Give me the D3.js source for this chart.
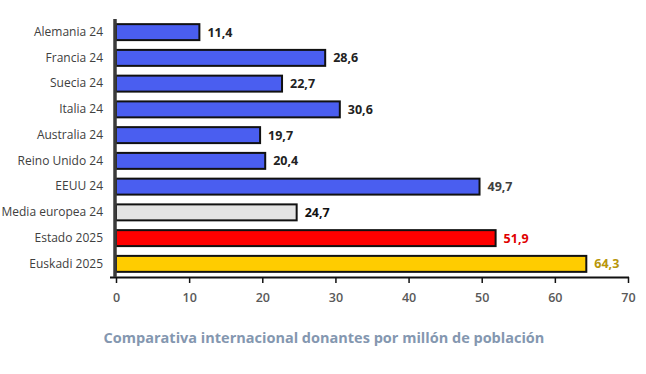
<!DOCTYPE html>
<html>
<head>
<meta charset="utf-8">
<script src="https://cdn.jsdelivr.net/npm/d3@7"></script>
<style>
  body { margin: 0; background: #fff; }
  text { font-family: "Open Sans", "Noto Sans", sans-serif; }
</style>
</head>
<body>
<svg id="chart" width="646" height="374"></svg>
<script>
// data
const categories = ["Alemania 24", "Francia 24", "Suecia 24", "Italia 24", "Australia 24",
  "Reino Unido 24", "EEUU 24", "Media europea 24", "Estado 2025", "Euskadi 2025"];
const values = [11.4, 28.6, 22.7, 30.6, 19.7, 20.4, 49.7, 24.7, 51.9, 64.3];
const barColors = ["#4a5ef0", "#4a5ef0", "#4a5ef0", "#4a5ef0", "#4a5ef0",
  "#4a5ef0", "#4a5ef0", "#e3e3e3", "#ff0000", "#ffcc00"];
const labelColors = ["#222", "#222", "#222", "#222", "#222",
  "#222", "#404040", "#111", "#e00000", "#b8960a"];
const xTicks = [0, 10, 20, 30, 40, 50, 60, 70];
const title = "Comparativa internacional donantes por millón de población";

const svg = d3.select("#chart");
const margin = { left: 116, right: 18, top: 19, bottom: 97 };
const width = 646, height = 374;

const x = d3.scaleLinear().domain([0, 70]).range([margin.left, width - margin.right]);
const y = d3.scaleBand().domain(categories)
  .range([margin.top, height - margin.bottom]).paddingInner(0.38).paddingOuter(0.2);

const data = categories.map((c, i) => ({ c, v: values[i], fill: barColors[i], lc: labelColors[i] }));

// bars
svg.append("g").selectAll("rect").data(data).join("rect")
  .attr("x", x(0))
  .attr("y", d => y(d.c))
  .attr("width", d => x(d.v) - x(0))
  .attr("height", y.bandwidth())
  .attr("fill", d => d.fill)
  .attr("stroke", "#111")
  .attr("stroke-width", 2);

// value labels
svg.append("g").selectAll("text").data(data).join("text")
  .attr("x", d => x(d.v) + 8)
  .attr("y", d => y(d.c) + y.bandwidth() / 2)
  .attr("dy", "0.36em")
  .attr("font-size", 12.5)
  .attr("font-weight", "bold")
  .attr("fill", d => d.lc)
  .text(d => d3.format(".1f")(d.v).replace(".", ","));

// x axis
const xAxis = svg.append("g")
  .attr("transform", `translate(0,${height - margin.bottom})`)
  .call(d3.axisBottom(x).tickValues(xTicks).tickSize(6).tickSizeOuter(0).tickFormat(d3.format("d")));
xAxis.select(".domain").attr("stroke", "#111").attr("stroke-width", 2)
  .attr("d", `M${x(0) - 6},0.5H${x(70) + 1}`);
xAxis.selectAll(".tick line").attr("stroke", "#111").attr("stroke-width", 1.5);
xAxis.selectAll(".tick text")
  .attr("fill", "#595959").attr("font-size", 12.5).attr("font-weight", 600).attr("dy", "1.3em")
  .attr("font-family", "\"Open Sans\", sans-serif");

// y axis
const yAxis = svg.append("g")
  .attr("transform", `translate(${x(0)},0)`)
  .call(d3.axisLeft(y).tickSize(0).tickPadding(13));
yAxis.select(".domain").attr("stroke", "#3a3a3a").attr("stroke-width", 3.5)
  .attr("d", `M-1,${margin.top}V${height - margin.bottom}`);
yAxis.selectAll(".tick text")
  .attr("fill", "#404040").attr("font-size", 12)
  .attr("font-family", "\"Open Sans\", sans-serif");

// title
svg.append("text")
  .attr("x", 324).attr("y", 343)
  .attr("text-anchor", "middle")
  .attr("font-size", 14.5).attr("font-weight", "bold")
  .attr("fill", "#8497b0")
  .text(title);
</script>
</body>
</html>
